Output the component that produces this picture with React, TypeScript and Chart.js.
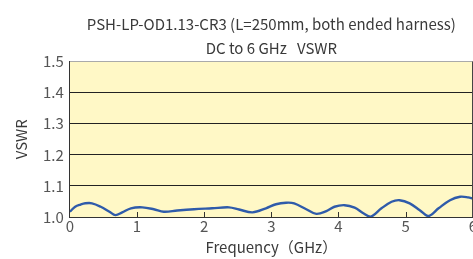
import React, { useEffect, useRef } from "react";
import { Chart, registerables } from "chart.js";

Chart.register(...registerables);

const titleLines = ["PSH-LP-OD1.13-CR3 (L=250mm, both ended harness)", "DC to 6 GHz   VSWR"];
const xTitle = "Frequency（GHz）";
const yTitle = "VSWR";
const freqGHz = [
  0.0, 0.01, 0.08, 0.16, 0.23, 0.33, 0.46, 0.59, 0.68, 0.78, 0.91, 1.08, 1.25, 1.4, 1.6, 1.85,
  2.12, 2.37, 2.52, 2.72, 2.92, 3.07, 3.22, 3.34, 3.52, 3.67, 3.82, 3.94, 4.09, 4.24, 4.37,
  4.48, 4.64, 4.79, 4.91, 5.06, 5.21, 5.34, 5.49, 5.66, 5.81, 5.93, 6.0,
];
const vswr = [
  1.017, 1.019, 1.033, 1.04, 1.044, 1.044, 1.033, 1.017, 1.006, 1.015, 1.028, 1.031, 1.025, 1.017,
  1.021, 1.025, 1.028, 1.031, 1.024, 1.015, 1.028, 1.041, 1.046, 1.044, 1.025, 1.01, 1.019, 1.033,
  1.038, 1.03, 1.012, 1.001, 1.028, 1.049, 1.054, 1.044, 1.022, 1.003, 1.028, 1.054, 1.065, 1.063,
  1.059,
];
const xTicks = [0, 1, 2, 3, 4, 5, 6];
const yTicks = [1.0, 1.1, 1.2, 1.3, 1.4, 1.5];

const FONT = "'Noto Sans CJK JP', 'Noto Sans', sans-serif";

const framePlugin = {
  id: "frame",
  beforeDraw(chart: any) {
    const { ctx, chartArea: a } = chart;
    ctx.save();
    ctx.fillStyle = "#FFF8C6";
    ctx.fillRect(a.left, a.top, a.right - a.left, a.bottom - a.top);
    ctx.restore();
  },
  afterDatasetsDraw(chart: any) {
    const { ctx, chartArea: a } = chart;
    const xs = chart.scales.x;
    ctx.save();
    ctx.strokeStyle = "#333";
    ctx.lineWidth = 1;
    ctx.beginPath();
    for (const v of xTicks) {
      if (v === 0 || v === 6) continue;
      const px = Math.round(xs.getPixelForValue(v)) + 0.5;
      ctx.moveTo(px, a.bottom);
      ctx.lineTo(px, a.bottom - 5);
    }
    ctx.stroke();
    ctx.strokeStyle = "#444";
    ctx.beginPath();
    const rx = Math.round(a.right) - 0.5;
    ctx.moveTo(rx, a.top);
    ctx.lineTo(rx, a.bottom);
    ctx.stroke();
    ctx.restore();
  },
};

export default function App() {
  const ref = useRef<HTMLCanvasElement>(null);
  useEffect(() => {
    document.body.style.margin = "0";
    const chart = new Chart(ref.current!, {
      type: "line",
      data: {
        datasets: [
          {
            data: freqGHz.map((f, i) => ({ x: f, y: vswr[i] })),
            borderColor: "#2F5BAA",
            borderWidth: 2.4,
            pointRadius: 0,
            tension: 0.35,
            fill: false,
          },
        ],
      },
      options: {
        animation: false,
        responsive: false,
        maintainAspectRatio: false,
        layout: { padding: { left: 12, top: 13, right: 0, bottom: 3 } },
        plugins: {
          legend: { display: false },
          tooltip: { enabled: false },
          title: {
            display: true,
            text: titleLines,
            fullSize: false,
            color: "#3a3a3a",
            font: { family: FONT, size: 15, weight: "normal", lineHeight: 1.55 },
            padding: { top: 0, bottom: 2 },
          },
        },
        scales: {
          x: {
            type: "linear",
            min: 0,
            max: 6,
            afterBuildTicks: (s: any) => {
              s.ticks = xTicks.map((v) => ({ value: v }));
            },
            grid: { display: false, drawTicks: false },
            border: { display: true, color: "#333", width: 1 },
            ticks: {
              color: "#555",
              font: { family: FONT, size: 15 },
              padding: 0,
              maxRotation: 0,
            },
            title: {
              display: true,
              text: xTitle,
              color: "#3a3a3a",
              font: { family: FONT, size: 15 },
              padding: { top: 3, bottom: 0 },
            },
          },
          y: {
            min: 1.0,
            max: 1.5,
            afterBuildTicks: (s: any) => {
              s.ticks = yTicks.map((v) => ({ value: v }));
            },
            grid: {
              drawTicks: false,
              color: (c: any) => (c.tick && Math.abs(c.tick.value - 1.5) < 1e-6 ? "#aaa" : "#222"),
              lineWidth: 1,
            },
            border: { display: true, color: "#333", width: 1 },
            ticks: {
              color: "#555",
              font: { family: FONT, size: 15 },
              padding: 6,
              callback: (v: any) => Number(v).toFixed(1),
            },
            title: {
              display: true,
              text: yTitle,
              color: "#3a3a3a",
              font: { family: FONT, size: 15 },
              padding: { top: 0, bottom: 7 },
            },
          },
        },
      },
      plugins: [framePlugin],
    });
    return () => chart.destroy();
  }, []);
  return (
    <div style={{ width: 473, height: 259, overflow: "hidden", background: "#fff" }}>
      <canvas ref={ref} width={477} height={259} style={{ display: "block" }} />
    </div>
  );
}
